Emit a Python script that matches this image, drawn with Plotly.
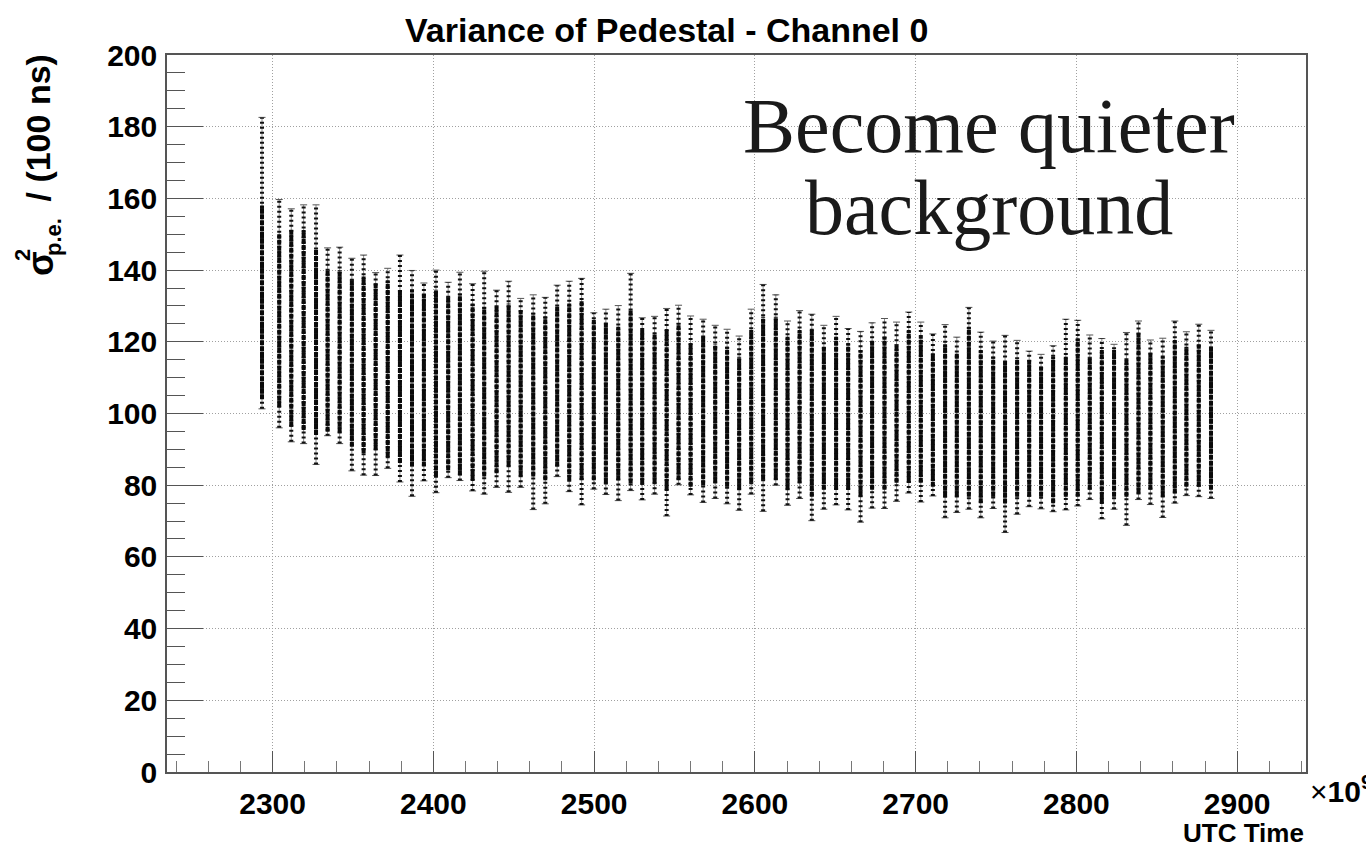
import plotly.graph_objects as go

# Run start times (x 1e9) and the spread of pedestal variance per run
run_time = [2293.4, 2304.1, 2311.6, 2319.3, 2327.0, 2334.2, 2341.7, 2349.3, 2356.6, 2364.1,
            2371.6, 2379.2, 2386.7, 2394.1, 2401.6, 2409.2, 2416.5, 2424.4, 2431.6, 2439.3,
            2446.8, 2454.3, 2462.1, 2469.6, 2477.0, 2484.5, 2492.2, 2499.8, 2507.3, 2515.0,
            2522.7, 2529.9, 2537.6, 2545.1, 2552.5, 2560.0, 2567.8, 2575.3, 2582.7, 2590.2,
            2597.7, 2605.1, 2613.0, 2620.3, 2627.8, 2635.4, 2642.9, 2650.5, 2658.0, 2665.7,
            2672.9, 2680.6, 2688.1, 2695.7, 2703.2, 2710.7, 2718.3, 2725.6, 2733.1, 2740.5,
            2748.2, 2755.6, 2763.1, 2770.6, 2778.0, 2785.5, 2793.4, 2800.8, 2808.3, 2815.8,
            2823.4, 2831.1, 2838.6, 2846.0, 2853.7, 2861.2, 2868.4, 2876.1, 2883.7]

# upper end of the highest error bar in each run
err_high = [182.6, 159.7, 157.1, 158.2, 158.2, 146.2, 146.4, 143.3, 144.2, 139.3,
            140.5, 144.2, 139.9, 136.4, 140.0, 136.6, 139.4, 136.2, 139.7, 134.4,
            136.9, 132.1, 133.1, 132.4, 135.8, 136.9, 137.7, 128.1, 129.1, 130.1,
            139.1, 126.7, 127.1, 129.3, 130.2, 127.2, 126.3, 124.6, 123.5, 121.6,
            129.1, 136.0, 133.1, 125.8, 128.7, 127.7, 124.6, 127.1, 123.7, 122.9,
            125.3, 126.5, 125.5, 128.3, 125.5, 122.2, 124.8, 121.3, 129.6, 122.7,
            120.2, 121.8, 120.4, 117.4, 116.5, 118.9, 126.3, 126.0, 121.9, 120.9,
            119.3, 122.6, 125.8, 120.5, 121.0, 125.8, 122.8, 124.9, 123.2]

# upper edge of the dense band of measurements
band_high = [158.0, 150.0, 151.2, 151.2, 145.6, 140.0, 140.0, 137.2, 138.2, 136.3,
             137.2, 134.5, 134.5, 133.5, 134.5, 132.6, 133.5, 130.7, 129.8, 129.8,
             130.7, 128.9, 128.0, 127.1, 129.8, 130.7, 131.6, 126.1, 125.2, 124.2,
             128.9, 123.3, 122.4, 123.3, 125.2, 119.6, 121.4, 119.3, 118.6, 115.8,
             123.3, 127.0, 127.0, 121.4, 123.3, 123.3, 118.6, 121.4, 119.3, 117.7,
             120.5, 121.4, 119.3, 123.3, 121.4, 116.8, 119.3, 116.8, 124.2, 117.7,
             115.8, 114.6, 114.9, 114.9, 113.1, 115.8, 115.8, 121.0, 115.8, 117.7,
             117.7, 114.9, 122.4, 116.8, 115.8, 120.5, 118.6, 119.3, 118.6]

# lower edge of the dense band of measurements
band_low = [104.0, 101.9, 96.3, 95.4, 94.0, 94.9, 94.6, 90.7, 89.0, 89.8,
            87.9, 86.2, 85.2, 85.2, 82.4, 84.2, 82.8, 81.4, 82.4, 83.3,
            85.2, 82.4, 82.4, 81.4, 85.2, 81.4, 81.4, 81.4, 80.5, 81.4,
            80.5, 80.5, 80.5, 78.6, 81.4, 79.6, 80.0, 80.7, 79.6, 78.7,
            80.7, 81.5, 81.5, 78.7, 80.7, 76.8, 78.7, 78.7, 78.7, 76.8,
            78.7, 78.7, 80.7, 80.7, 80.7, 79.6, 76.8, 76.8, 76.8, 75.0,
            76.8, 74.9, 76.8, 76.8, 76.8, 75.0, 76.8, 76.8, 78.7, 75.0,
            76.8, 76.8, 77.7, 78.7, 76.8, 77.7, 79.6, 79.6, 78.7]

# lower end of the lowest error bar in each run
err_low = [101.3, 96.0, 92.1, 91.6, 85.8, 93.8, 91.6, 84.0, 82.8, 82.7,
           84.7, 80.9, 76.9, 81.2, 77.9, 82.1, 81.3, 78.4, 77.5, 79.4,
           78.0, 79.4, 73.2, 74.8, 82.4, 78.2, 74.5, 78.9, 77.4, 75.7,
           78.5, 75.9, 77.5, 71.4, 80.1, 77.3, 75.2, 76.3, 74.8, 73.0,
           77.5, 72.7, 80.0, 74.4, 76.3, 70.1, 73.3, 74.5, 73.1, 69.7,
           73.6, 73.5, 75.5, 77.8, 75.3, 77.0, 70.9, 72.4, 73.3, 70.9,
           73.5, 66.8, 71.9, 74.0, 73.4, 72.6, 73.1, 74.2, 76.0, 70.6,
           73.3, 68.8, 76.0, 74.6, 71.0, 75.0, 77.1, 76.8, 76.3]

y_ticks = [0, 20, 40, 60, 80, 100, 120, 140, 160, 180, 200]
x_ticks = [2300, 2400, 2500, 2600, 2700, 2800, 2900]

W, H = 1366, 847
L, R, T, B = 167, 1306, 55, 772


def px_x(p):
    return (p - L) / (R - L)


def px_y(p):
    return (B - p) / (B - T)


def segments(xs, lo, hi):
    sx, sy = [], []
    for x, a, b in zip(xs, lo, hi):
        sx += [x, x, None]
        sy += [a, b, None]
    return sx, sy


fig = go.Figure()

# error bars spanning the full spread of each run
ex, ey = segments(run_time, err_low, err_high)
fig.add_trace(go.Scatter(x=ex, y=ey, mode="lines",
                         line=dict(color="#8a8a8a", width=1), hoverinfo="skip"))
fig.add_trace(go.Scatter(x=run_time * 2, y=err_high + err_low, mode="markers",
                         marker=dict(symbol="line-ew", size=5,
                                     line=dict(color="#555555", width=1)),
                         hoverinfo="skip"))

# sparse measurements towards the tails
sx, sy = segments(run_time, err_low, err_high)
fig.add_trace(go.Scatter(x=sx, y=sy, mode="lines",
                         line=dict(color="#111111", width=4, dash="2px,3px"),
                         hoverinfo="skip"))

# dense core of measurements
cx, cy = segments(run_time, band_low, band_high)
fig.add_trace(go.Scatter(x=cx, y=cy, mode="lines",
                         line=dict(color="#0a0a0a", width=4, dash="5px,1px"),
                         hoverinfo="skip"))

tick_font = dict(family="Liberation Sans", size=30, color="#000000", weight="bold")

fig.update_layout(
    width=W, height=H,
    margin=dict(l=L, r=W - R, t=T, b=H - B),
    paper_bgcolor="white", plot_bgcolor="white",
    showlegend=False,
    xaxis=dict(
        range=[2234.3, 2942.8], tickvals=x_ticks, ticktext=[str(v) for v in x_ticks],
        ticks="inside", ticklen=21, tickwidth=1, tickcolor="#555555",
        minor=dict(dtick=20, tick0=2300, ticks="inside", ticklen=11,
                   tickcolor="#777777", showgrid=False),
        showgrid=True, gridcolor="#a0a0a0", griddash="1px,2px", gridwidth=1,
        showline=True, mirror=True, linecolor="#555555", linewidth=1.5,
        zeroline=False, tickfont=tick_font, ticklabelstandoff=4,
    ),
    yaxis=dict(
        range=[0, 200], tickvals=y_ticks, ticktext=[str(v) for v in y_ticks],
        ticks="inside", ticklen=36, tickwidth=1, tickcolor="#555555",
        minor=dict(dtick=5, tick0=0, ticks="inside", ticklen=18,
                   tickcolor="#555555", showgrid=False),
        showgrid=True, gridcolor="#a0a0a0", griddash="1px,2px", gridwidth=1,
        showline=True, mirror=True, linecolor="#555555", linewidth=1.5,
        zeroline=False, tickfont=tick_font, ticklabelstandoff=2,
    ),
)

ann = []
# chart title
ann.append(dict(text="Variance of Pedestal - Channel 0", x=px_x(666), y=px_y(30),
                xanchor="center", yanchor="middle",
                font=dict(family="Liberation Sans", size=34, weight="bold", color="#000")))
# axis titles
ann.append(dict(text="UTC Time", x=px_x(1306), y=px_y(833),
                xanchor="right", yanchor="middle",
                font=dict(family="Liberation Sans", size=26, weight="bold", color="#000")))
ann.append(dict(text="\u00d7<b>10</b><sup><b>9</b></sup>", x=px_x(1308), y=px_y(789),
                xanchor="left", yanchor="middle",
                font=dict(family="Liberation Sans", size=30, color="#000")))
ann.append(dict(text="/ (100 ns)", x=px_x(37), y=px_y(53), textangle=-90,
                xanchor="center", yanchor="top",
                font=dict(family="Liberation Sans", size=34, weight="bold", color="#000")))
ann.append(dict(text="\u03c3", x=px_x(40), y=px_y(264), textangle=-90,
                xanchor="center", yanchor="middle",
                font=dict(family="Liberation Sans", size=36, weight="bold", color="#000")))
ann.append(dict(text="2", x=px_x(23), y=px_y(255), textangle=-90,
                xanchor="center", yanchor="middle",
                font=dict(family="Liberation Sans", size=22, weight="bold", color="#000")))
ann.append(dict(text="p.e.", x=px_x(53), y=px_y(237), textangle=-90,
                xanchor="center", yanchor="middle",
                font=dict(family="Liberation Sans", size=22, weight="bold", color="#000")))
# comment on the trend
ann.append(dict(text="Become quieter", x=px_x(989), y=px_y(125),
                xanchor="center", yanchor="middle",
                font=dict(family="Liberation Serif", size=78, color="#1a1a1a")))
ann.append(dict(text="background", x=px_x(989), y=px_y(207),
                xanchor="center", yanchor="middle",
                font=dict(family="Liberation Serif", size=78, color="#1a1a1a")))

for a in ann:
    a.update(xref="paper", yref="paper", showarrow=False)
fig.update_layout(annotations=ann)

fig.write_html("out.html")
